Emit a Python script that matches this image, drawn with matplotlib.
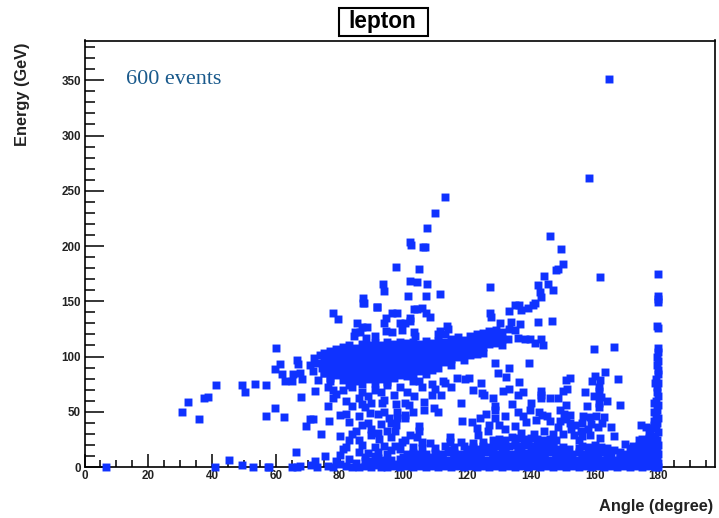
import matplotlib
matplotlib.use("Agg")
import matplotlib.pyplot as plt
from matplotlib.patches import Rectangle
from matplotlib.ticker import MultipleLocator

plt.rcParams['font.family'] = ['Liberation Sans', 'DejaVu Sans']

title = "lepton"
x_label = "Angle (degree)"
y_label = "Energy (GeV)"
note = "600 events"

# (angle, energy), region by region
outliers_high = [(164.6,351),(158.2,262),(113,244.6),(110,229.6),(107.5,216),(102,203.6),(102.4,201),(106.3,199.5),(106.9,199),
 (146,209),(149.6,197),(150,183.5),(148.5,179.5),(147.9,178),(144.2,172.5),(161.7,172),(145.5,166),(142.2,165),(127.3,162.6),
 (146.8,160),(142.9,158),(143.2,154),(141.4,148.7),(140.8,147),(139.2,143.6),(137,142.5),(136.4,147),(135.1,147),(133.2,141),
 (127.3,139),(127.6,136),(136.7,129.4),(142.3,131),(146.5,132),(133.8,131),
 (97.8,181),(105,179),(102.2,168.3),(104.3,167),(107.4,166),(93.7,165.6),(93.9,159.7),(101.5,154.7),(107.2,155),(111.5,157),
 (87.3,153),(87.7,148.5),(91.6,145),(103.2,142.7),(104.4,142.7),(105.9,143.6),(107.2,139),(108.4,136),
 (98,139.6),(96.5,139),(94.5,135),(93.8,130),(94.5,123),(96.5,122),(99,130),(100.5,130),(102,132),(99.5,124),(102,134.6),
 (88.3,117),(86.3,122),(84.8,122),(103.7,119),(103.2,122.5),(111,120),(113,120),(113.9,125),(111.6,123),(113.6,127.5)]

left_scatter = [(30.5,50),(32.5,59),(35.8,43),(37.5,62),(38.8,63),(41.3,74.5),(49.4,74.5),(50.2,67.5),(53.5,75.5),(56.9,74.5),
 (57,46),(59.6,53.5),(62.5,45),(60.1,107.5),(61.4,93),(59.9,89),(62,84),(63,78),(65,78),(65.5,84),(66.6,97),(66.9,93),
 (67.8,63.5),(68.1,80),(67.6,85),(70.7,92),(72.4,69),(71.6,87),(73.2,79),(69.4,37),(70.6,43),(71.6,43),(74.3,30),(76.5,55),
 (76.8,41.5),(80,47),(82,48),(78,139),(79.6,134),(85.5,130),(88.6,127),(87,127),(84.6,118.6),(91,119),(87.5,148),(91.7,145),
 (72,99),(73,94),(74,101),(74.5,90),(75,85),(76,95),(77,78),(76.5,72),(78,70),(79,66),(78,62),(81,70)]

band_main = [(75,103),(75,97),(75,91),(75,85),(77,105),(77,99),(77,93),(77,87),(77,81),(79,107),(79,101),(79,95),(79,89),(79,83),
 (81,109),(81,103),(81,97),(81,91),(81,85),(81,79),(83,110),(83,104),(83,98),(83,92),(83,86),(83,80),(83,74),
 (85,108),(85,102),(85,96),(85,90),(85,84),(85,78),(87,111),(87,105),(87,99),(87,93),(87,87),(87,81),(87,75),
 (89,110),(89,104),(89,98),(89,92),(89,86),(89,80),(91,112),(91,106),(91,100),(91,94),(91,88),(91,82),(91,76),
 (93,110),(93,104),(93,98),(93,92),(93,86),(93,80),(95,113),(95,107),(95,101),(95,95),(95,89),(95,83),(95,77),
 (97,111),(97,105),(97,99),(97,93),(97,87),(97,81),(99,113),(99,107),(99,101),(99,95),(99,89),(99,83),
 (101,112),(101,106),(101,100),(101,94),(101,88),(101,82),(103,113),(103,107),(103,101),(103,95),(103,89),(103,83),
 (105,111),(105,105),(105,99),(105,93),(105,87),(107,114),(107,108),(107,102),(107,96),(107,90),(107,84),
 (109,112),(109,106),(109,100),(109,94),(109,88),(111,114),(111,108),(111,102),(111,96),(111,90),(113,113),(113,107),(113,101),(113,95),
 (115,116),(115,110),(115,104),(115,98),(115,92),(117,118),(117,112),(117,106),(117,100),(119,115),(119,109),(119,103),(119,97),
 (121,119),(121,113),(121,107),(121,101),(123,120),(123,114),(123,108),(123,102),(125,121),(125,115),(125,109),(125,103),
 (127,123),(127,117),(127,111),(129,124),(129,118),(129,112),(131,122),(131,116),(131,110),(132.9,116),(136.1,116.5),(138.2,116),
 (139.7,115.5),(141.2,112),(143.3,116),(143.8,110.7),(130.4,130),(133,125),(135,124)]

mid_scatter = [(112.4,78),(116.8,80.5),(119.4,79.5),(120.7,80.5),(124.7,67),(125.2,65),(118.4,41.6),(121.5,41),(124,44.6),(123,35),
 (123.5,29),(126.7,33),(114.5,27),(114.5,23),(109,65),(111.7,65),(109.5,53),(111,50),(106.4,52),(106.4,59),(103.2,64),
 (100.6,57.6),(101.7,56),(97.8,57),(94,61),(93.3,58),(89.7,49),(100.6,47),(100.6,44),(95.4,44),(98,44),(97.8,38),(93,39),(96,40),
 (90,34),(90,29),(104.9,37),(104.9,33),(104.3,27),(108.5,22),(100.6,24),(97.5,33),(95,33),(92.5,25),(91,18),(94,19),(97.5,19),(99.6,23),
 (103,78),(106,72),(99,72),(95,74),(91,70),(87,68),(84,72),(86,62),(89,64),(82,60),(84,55),(88,54),(86,46),(83,41),(87,38),
 (109,75),(105,78),(101,68),(92,48),(89,40),(85,33),(80,28),(83,24),
 (124.5,76),(115,72),(128.8,94.4),(133,89.3),(139.4,94.4),(129.8,85.3),(132.3,81.4),(136.4,77),(131.3,68.6),(137.5,67.5),(136,65),
 (143.1,69),(143.1,65.5),(143.1,62),(134.2,56.6),(128.7,55),(128.7,52),(139.6,52),(142.7,50),(143.4,47),(145,46.6),(137.6,46),
 (138.4,41),(141.7,42.5),(146.1,41.5),(128.7,44.6),(127,38),(130,38),(132,34),(135,37.5)]

right_scatter = [(152.3,80.3),(151.1,79),(151.3,71),(150,69),(148.5,62),(151.1,56),(149,52),(150.4,48),(152.3,47),(151,43),(152.3,40),
 (152.6,34),(148.4,36),(153.6,29),(159.7,107),(166,109),(167.3,79.6),(163.2,86),(160,82.6),(159.2,78),(161.8,78.7),(161.3,72.7),
 (161.5,69),(157,67.5),(159.9,64),(162,63),(163.8,59.6),(161.3,57.5),(161.5,54),(157.6,55),(168,56),(156.5,46),(158.6,45),(160.5,46),
 (162.3,40),(161.2,36),(159,39),(156,40),(155.8,33),(158.6,29),(161.7,26.5),(169.4,21),(174.6,38),(176,36.5),(177,32),(150,30),(155,24)]

low_left = [(6.6,0),(41,0),(45.3,6),(49.5,2),(53,0),(57.5,0),(58,0),(65,0),(66.3,14),(66.5,0),(67.5,1),(71,2),(72.3,5),(73,0),(75.5,10),
 (76.5,1),(78,0),(79,5),(80,11),(81,16),(82,18),(80,3),(82,1),(83,7),(84,0),(85,4),(86,0),(86,14),(87,20),(88,9),(88,1),(89,13),
 (90,5),(90,0),(91,10),(92,2),(92,14),(93,0),(94,6)]

bottom_rows = [(95,0),(97,1),(99,0),(101,1),(103,0),(105,1),(107,0),(109,1),(111,0),(113,1),(115,0),(117,1),(119,0),(121,1),(123,0),
 (125,1),(127,0),(129,1),(131,0),(133,1),(135,0),(137,1),(139,0),(141,1),(143,0),(145,1),(147,0),(149,1),(151,0),(153,1),(155,0),
 (157,1),(159,0),(161,1),(163,0),(165,1),(167,0),(169,1),(171,0),(173,1),(175,0),(177,1),(179,0),(180,0),
 (96,6),(99,7),(102,6),(104,7),(106,6),(108,7),(110,6),(112,7),(114,6),(116,7),(118,6),(120,7),(122,6),(124,7),(126,6),(128,7),
 (130,6),(132,7),(134,6),(136,7),(138,6),(140,7),(142,6),(144,7),(146,6),(148,7),(150,6),(152,7),(154,6),(156,7),(158,6),(160,7),
 (162,6),(164,7),(166,6),(168,7),(170,6),(172,7),(174,6),(176,7),(178,6),
 (95,12),(101,12),(103,13),(105,12),(107,12),(110,13),(112,12),(114,14),(116,13),(118,12),(120,13),(122,13),(124,12),(126,14),(128,13),
 (130,12),(132,13),(134,12),(136,14),(138,13),(140,12),(142,13),(144,12),(146,14),(148,12),(150,13),(153,12),(155,14),(157,12),(159,13),
 (161,12),(163,14),(165,13),(170,12),(172,14),(174,13),(176,14),(178,13),
 (113,19),(116,18),(119,19),(122,18),(125,19),(127,18),(129,19),(131,18),(133,19),(135,20),(137,19),(139,20),(141,19),(143,18),(145,19),
 (147,20),(150,18),(156,19),(158,18),(162,18),(164,17),(174,19),(176,20),(178,19),
 (128,24),(130,25),(132,24),(134,27),(136,26),(138,25),(140,26),(142,25),(144,24),(146,25),(148,24),(177,26)]

bottom_fill = [(98,3),(100,4),(104,3),(108,4),(112,3),(116,4),(120,3),(124,4),(128,3),(132,4),(136,3),(140,4),(144,3),(148,4),(152,3),
 (156,4),(160,3),(164,4),(168,3),(172,4),(176,3),(178,2),(100,9),(104,10),(108,9),(112,10),(116,9),(120,10),(124,9),(128,10),(132,9),
 (136,10),(140,9),(144,10),(148,9),(152,10),(156,9),(160,10),(164,9),(168,10),(172,9),(176,10),(178,9),(115,15),(120,16),(124,16),
 (128,16),(132,16),(136,16),(140,16),(144,16),(148,16),(152,16),(155,17),(160,16),(173,16),(177,16),(131,21),(135,22),(139,22),(143,21),
 (147,21),(176,23),(178,22),(177.5,30),(178,35),(178.5,42),(175,25),(174,24),(172,19),(171,17),(168,14),(166,15),(125,23),(122,22),(118,23),
 (110,17),(106,17),(103,18),(99,16),(96,15),(92,8),(88,5),(96,27),(102,29),(106,23),(92,31),(86,24),(84,30),(94,50),(98,50),(103,50),
 (87,57),(90,58),(97,65),(93,68),(110,71),(113,76),(118,58),(122,70),(128,62),(133,71),(126,48),(132,46),(136,50),(140,58),(146,62),
 (149,42),(147,30),(144,33),(141,30),(137,31),(154,38),(158,34),(163,45),(165,36),(166,28),(160,20),(156,28)]

column_180 = [(179.8,175),(179.9,155),(179.9,152),(180,149),(179.7,127.7),(179.9,126),(179.8,108),(180,104),(179.7,100),(180,96),(179.6,92),
 (180,88),(179.8,84),(179.3,80),(180,76),(179.7,72),(179.5,68),(180,64),(179.2,60),(180,56),(179.7,52),(179.4,48),(180,44),(179.6,40),
 (179.3,36),(180,32),(178.8,28),(179.6,24),(180,20),(179.5,16),(180,12),(179.5,8),(180,4),(178.8,76),(178.7,50),(178.5,38),(178.6,58)]

regions = [outliers_high, left_scatter, band_main, mid_scatter, right_scatter, low_left, bottom_rows, bottom_fill, column_180]
angles = [p[0] for r in regions for p in r]
energies = [p[1] for r in regions for p in r]

W, H = 719, 518
fig = plt.figure(figsize=(W/100, H/100), dpi=100, facecolor='white')
ax = fig.add_axes([84.5/W, 1-467/H, 630/W, 426.5/H])
ax.set_xlim(0, 197.6)
ax.set_ylim(0, 386)
pts = ax.scatter(angles, energies, marker='s', s=32.5, linewidths=0,
                 color='#0f32ff', clip_on=False, zorder=3)
pts.set_snap(False)

ax.xaxis.set_major_locator(MultipleLocator(20))
ax.xaxis.set_minor_locator(MultipleLocator(5))
ax.yaxis.set_major_locator(MultipleLocator(50))
ax.yaxis.set_minor_locator(MultipleLocator(10))
ax.tick_params(axis='x', which='major', direction='in', length=9.5, width=1.1, pad=2.5, labelsize=8.4)
ax.tick_params(axis='x', which='minor', direction='in', length=5, width=1.1)
ax.tick_params(axis='y', which='major', direction='in', length=13.5, width=1.1, pad=2.5, labelsize=8.4)
ax.tick_params(axis='y', which='minor', direction='in', length=7, width=1.1)
for lab in ax.get_xticklabels() + ax.get_yticklabels():
    lab.set_fontweight('bold')
    lab.set_color('#222222')
for s in ax.spines.values():
    s.set_linewidth(1.2)

ax.text(13.0, 350.5, note, family=['Liberation Serif'], fontsize=15.9, color='#1a5a8c', ha='left', va='center')

fig.text(713/W, 1-507/H, x_label, fontsize=11.8, fontweight='bold', ha='right', va='center', color='#222222')
fig.text(23/W, 1-42/H, y_label, fontsize=11.8, fontweight='bold', rotation=90, ha='center', va='top', color='#222222')

fig.add_artist(Rectangle((338.5/W, 1-35.5/H), 89/W, 28/H, transform=fig.transFigure,
                         facecolor='white', edgecolor='black', linewidth=1.5))
fig.text(382/W, 1-21.5/H, title, fontsize=16.3, fontweight='bold', ha='center', va='center', color='black')

fig.savefig('out.png', dpi=100)
